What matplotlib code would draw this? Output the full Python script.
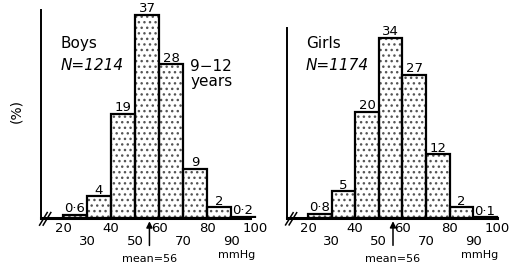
import numpy as np
import matplotlib
matplotlib.use("Agg")
import matplotlib.pyplot as plt

# bins (mmHg) and percentages
bin_edges = [20, 30, 40, 50, 60, 70, 80, 90, 100]
boys_pct = [0.6, 4, 19, 37, 28, 9, 2, 0.2]
girls_pct = [0.8, 5, 20, 34, 27, 12, 2, 0.1]
boys_labels = ["0·6", "4", "19", "37", "28", "9", "2", "0·2"]
girls_labels = ["0·8", "5", "20", "34", "27", "12", "2", "0·1"]
tick_vals = [20, 30, 40, 50, 60, 70, 80, 90, 100]
tick_text = ["20", "\n30", "40", "\n50", "60", "\n70", "80", "\n90", "100"]
mean_bp = 56

plt.rcParams["font.family"] = ["DejaVu Sans"]
plt.rcParams["hatch.linewidth"] = 1.0

W, H = 511, 264
fig = plt.figure(figsize=(W / 100, H / 100), dpi=100)


def panel(rect, xlim, ylim, pct, labels, top_axis, base_end, name, n_text):
    ax = fig.add_axes(rect)
    ax.set_xlim(*xlim)
    ax.set_ylim(*ylim)
    ax.patch.set_alpha(0)
    lefts = np.array(bin_edges[:-1])
    width = np.diff(bin_edges)
    ax.bar(lefts, pct, width=width, align="edge", color="white",
           edgecolor="#555555", hatch="...", lw=0, zorder=2)
    ax.bar(lefts, pct, width=width, align="edge", fill=False,
           edgecolor="black", lw=1.6, zorder=3)
    for x, v, t in zip(lefts + width / 2, pct, labels):
        ax.annotate(t, (x, v), xytext=(0, 1.8), textcoords="offset points",
                    ha="center", va="baseline", fontsize=9.5,
                    annotation_clip=False)
    for s in ["top", "right"]:
        ax.spines[s].set_visible(False)
    ax.spines["left"].set_bounds(0, top_axis)
    ax.spines["left"].set_linewidth(1.4)
    ax.spines["bottom"].set_bounds(xlim[0], base_end)
    ax.spines["bottom"].set_linewidth(2.2)
    ax.set_yticks([])
    ax.set_xticks(tick_vals)
    ax.set_xticklabels(tick_text, fontsize=9.5, linespacing=1.0)
    ax.tick_params(axis="x", length=0, pad=3)
    # axis break mark
    for dx in (0.0, 1.5):
        ax.plot([xlim[0] - 0.6 + dx, xlim[0] + 2.6 + dx], [-1.3, 1.0],
                color="black", lw=1.1, clip_on=False, zorder=5)
    ax.text(0.09, 0.80, name, transform=ax.transAxes, fontsize=11,
            ha="left", va="center")
    ax.text(0.09, 0.70, n_text, transform=ax.transAxes, fontsize=11,
            style="italic", ha="left", va="center")
    ax.annotate("mean=56", xy=(mean_bp, -0.6), xytext=(0, -27),
                textcoords="offset points", ha="center", va="center",
                fontsize=8, annotation_clip=False,
                arrowprops=dict(arrowstyle="-|>", color="black", lw=1.1,
                                shrinkA=4, shrinkB=0, mutation_scale=9))
    ax.annotate("mmHg", xy=(92.5, 0), xytext=(0, -27),
                textcoords="offset points", ha="center", va="center",
                fontsize=8, annotation_clip=False)
    return ax


ax1 = panel([41 / W, 46 / H, 216 / W, 218 / H], (10.83, 100.8), (0, 39.7),
            boys_pct, boys_labels, 37.8, 98.0, "Boys", "N=1214")
ax1.text(0.69, 0.66, "9\u221212\nyears", transform=ax1.transAxes,
         fontsize=11, ha="left", va="center", linespacing=1.0)
fig.text(16 / W, 1 - 111 / H, "(%)", rotation=90, fontsize=10,
         ha="center", va="center")

ax2 = panel([287 / W, 46 / H, 212 / W, 218 / H], (11.1, 100.9), (0, 41.1),
            girls_pct, girls_labels, 35.8, 100.0, "Girls", "N=1174")

fig.savefig("out.png", dpi=100)
